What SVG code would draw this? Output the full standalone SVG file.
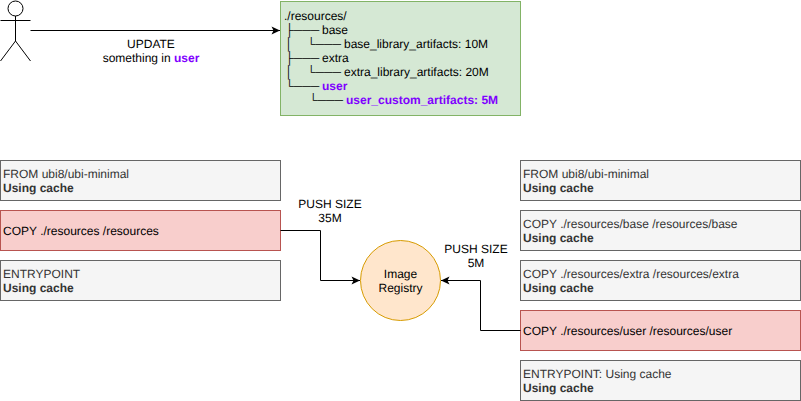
<svg xmlns="http://www.w3.org/2000/svg" width="801" height="401" viewBox="0 0 801 401">
<style>
text{font-family:"Liberation Sans",Arial,sans-serif;font-size:12px;fill:#000;text-rendering:geometricPrecision}
.g rect{fill:#f5f5f5;stroke:#666}
.g text{fill:#333}
.r rect{fill:#f8cecc;stroke:#b85450}
.b{font-weight:700}
.p{font-weight:700;fill:#7f00ff}
.c{text-anchor:middle}
.ln{fill:none;stroke:#000;stroke-width:1}
</style>
<defs>
<marker id="a" markerUnits="userSpaceOnUse" markerWidth="10" markerHeight="10" refX="8.5" refY="4" orient="auto" overflow="visible"><path d="M0 0L8.5 4L0 8L2 4Z" fill="#000"/></marker>
</defs>
<g id="actor" fill="none" stroke="#000">
<circle cx="15.5" cy="8.5" r="7.5" fill="#fff"/>
<path d="M15.5 16V41M0.5 20.5H30.5M15.5 41L0.5 61M15.5 41L30.5 61"/>
</g>
<g id="tree">
<rect x="280.5" y="1.5" width="240" height="114" fill="#d5e8d4" stroke="#82b366"/>
<text x="284" y="20">./resources/</text>
<g transform="rotate(.01 300 60)">
<text x="285.3" y="34">├───</text>
<text x="285.3" y="48">│</text><text x="307" y="48">└───</text>
<text x="285.3" y="62">├───</text>
<text x="285.3" y="76">│</text><text x="307" y="76">└───</text>
<text x="285.3" y="90">└───</text>
<text x="309" y="104">└───</text>
</g>
<text x="322" y="34">base</text>
<text x="344" y="48">base_library_artifacts: 10M</text>
<text x="322" y="62">extra</text>
<text x="344" y="76">extra_library_artifacts: 20M</text>
<text class="p" x="322" y="90">user</text>
<text class="p" x="346" y="104">user_custom_artifacts: 5M</text>
</g>
<g id="update-label">
<text class="c" x="151" y="48">UPDATE</text>
<text class="c" x="151" y="62">something in <tspan class="p">user</tspan></text>
</g>
<g id="left1" class="g"><rect x="0.5" y="160.5" width="280" height="40"/><text x="3" y="178">FROM ubi8/ubi-minimal</text><text class="b" x="3" y="192">Using cache</text></g>
<g id="left2" class="r"><rect x="0.5" y="210.5" width="280" height="40"/><text x="3" y="235">COPY ./resources /resources</text></g>
<g id="left3" class="g"><rect x="0.5" y="260.5" width="280" height="40"/><text x="3" y="278">ENTRYPOINT</text><text class="b" x="3" y="292">Using cache</text></g>
<g id="right1" class="g"><rect x="520.5" y="160.5" width="280" height="40"/><text x="523" y="178">FROM ubi8/ubi-minimal</text><text class="b" x="523" y="192">Using cache</text></g>
<g id="right2" class="g"><rect x="520.5" y="210.5" width="280" height="40"/><text x="523" y="228">COPY ./resources/base /resources/base</text><text class="b" x="523" y="242">Using cache</text></g>
<g id="right3" class="g"><rect x="520.5" y="260.5" width="280" height="40"/><text x="523" y="278">COPY ./resources/extra /resources/extra</text><text class="b" x="523" y="292">Using cache</text></g>
<g id="right4" class="r"><rect x="520.5" y="310.5" width="280" height="40"/><text x="523" y="335">COPY ./resources/user /resources/user</text></g>
<g id="right5" class="g"><rect x="520.5" y="360.5" width="280" height="40"/><text x="523" y="378">ENTRYPOINT: Using cache</text><text class="b" x="523" y="392">Using cache</text></g>
<g id="registry"><circle cx="400.5" cy="280.5" r="40" fill="#ffe6cc" stroke="#d79b00"/><text class="c" x="400.5" y="278">Image</text><text class="c" x="400.5" y="292">Registry</text></g>
<g id="connectors">
<path class="ln" marker-end="url(#a)" d="M30.5 30.5H280"/>
<path class="ln" marker-end="url(#a)" d="M280.5 230.5H320.5V280.5H360"/>
<path class="ln" marker-end="url(#a)" d="M520.5 330.5H480.5V280.5H441"/>
</g>
<g id="labels">
<text class="c" x="330" y="208">PUSH SIZE</text><text class="c" x="330" y="222">35M</text>
<text class="c" x="476" y="253">PUSH SIZE</text><text class="c" x="476" y="267">5M</text>
</g>
</svg>
